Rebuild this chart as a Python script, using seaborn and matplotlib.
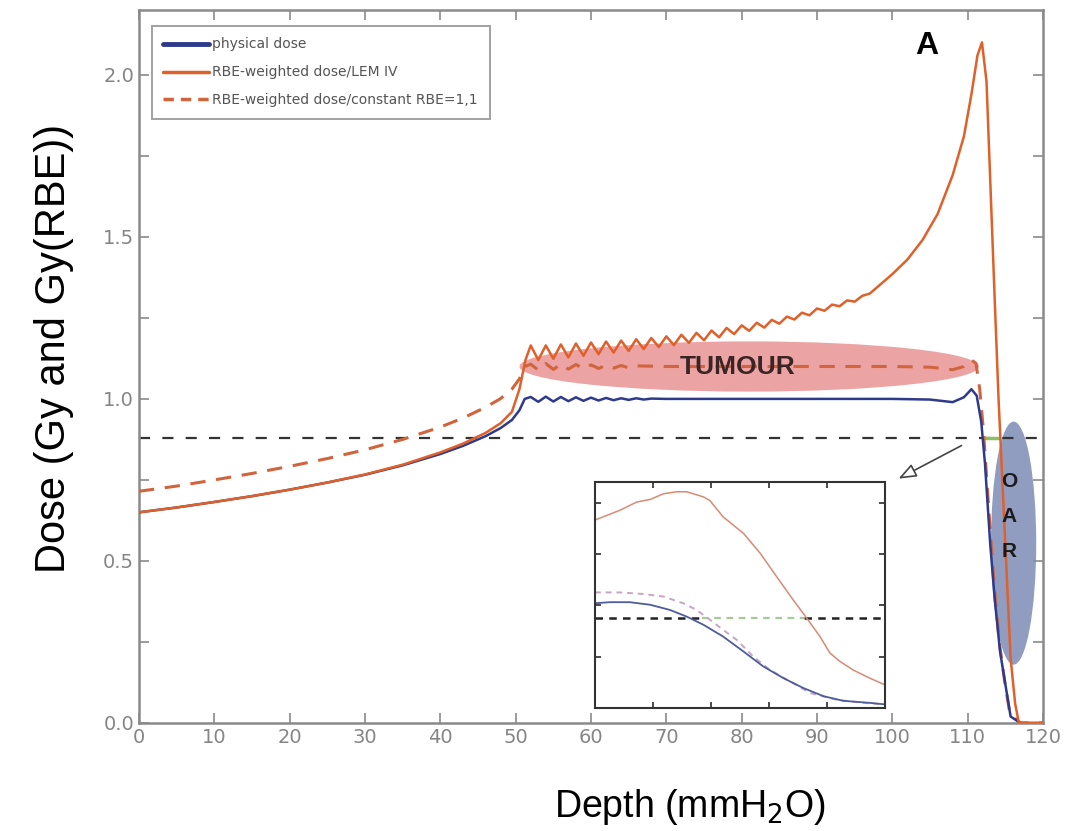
import matplotlib
matplotlib.use("Agg")
import matplotlib.pyplot as plt
from matplotlib.lines import Line2D
from matplotlib.patches import Ellipse
from matplotlib.ticker import MultipleLocator, FormatStrFormatter
import seaborn as sns

# ---- data ----
depth_phys = [0, 5, 10, 15, 20, 25, 30, 35, 40, 43, 46, 48, 49.5, 50.5, 51.2,
              52, 53, 54, 55, 56, 57, 58, 59, 60, 61, 62, 63, 64, 65, 66, 67, 68,
              70, 75, 80, 85, 90, 95, 100, 105, 108, 109.5, 110.5, 111.2, 111.8,
              112.3, 113, 113.6, 114.3, 115, 115.7, 117, 120]
dose_phys = [0.650, 0.665, 0.682, 0.700, 0.720, 0.742, 0.766, 0.795, 0.830, 0.855, 0.885, 0.910, 0.935, 0.965, 1.000,
             1.006, 0.991, 1.007, 0.992, 1.006, 0.993, 1.005, 0.994, 1.004, 0.995, 1.003, 0.996, 1.002, 0.997, 1.002, 0.998, 1.001,
             1.000, 1.000, 1.000, 1.000, 1.000, 1.000, 1.000, 0.998, 0.990, 1.005, 1.030, 1.010, 0.930,
             0.800, 0.550, 0.380, 0.220, 0.120, 0.020, 0.000, 0.000]

depth_lem = [0, 5, 10, 15, 20, 25, 30, 35, 40, 43, 46, 48, 49.5, 50.5, 51.3,
             52, 53, 54, 55, 56, 57, 58, 59, 60, 61, 62, 63, 64, 65, 66, 67, 68, 69, 70,
             71, 72, 73, 74, 75, 76, 77, 78, 79, 80, 81, 82, 83, 84, 85, 86, 87, 88, 89,
             90, 91, 92, 93, 94, 95, 96, 97, 98, 100, 102, 104, 106, 108, 109.5, 110.5,
             111.3, 111.9, 112.5, 113.1, 113.6, 114.1, 114.9, 115.7, 116.3, 116.8, 120]
dose_lem = [0.650, 0.665, 0.682, 0.700, 0.720, 0.742, 0.767, 0.797, 0.835, 0.862, 0.895, 0.925, 0.960, 1.030, 1.120,
            1.165, 1.120, 1.165, 1.124, 1.168, 1.128, 1.171, 1.133, 1.174, 1.138, 1.177, 1.143, 1.180, 1.148, 1.184, 1.154, 1.188, 1.160, 1.193,
            1.166, 1.198, 1.173, 1.204, 1.181, 1.211, 1.190, 1.219, 1.200, 1.227, 1.210, 1.235, 1.220, 1.244, 1.232, 1.254, 1.245, 1.266, 1.258,
            1.279, 1.272, 1.291, 1.286, 1.304, 1.300, 1.318, 1.325, 1.345, 1.385, 1.430, 1.490, 1.570, 1.690, 1.810, 1.940,
            2.060, 2.100, 1.980, 1.610, 1.300, 1.000, 0.600, 0.200, 0.060, 0.000, 0.000]

depth_rbe = [0, 5, 10, 15, 20, 25, 30, 35, 40, 43, 46, 48, 49.5, 50.5, 51.2,
             52, 53, 54, 55, 56, 57, 58, 59, 60, 61, 62, 63, 64, 65, 66,
             70, 80, 90, 100, 105, 108, 109.5, 110.5, 111.1, 111.6, 112.1, 112.8,
             113.5, 114.2, 114.9, 115.6, 117, 120]
dose_rbe = [0.715, 0.731, 0.750, 0.770, 0.792, 0.816, 0.843, 0.875, 0.913, 0.941, 0.974, 1.001, 1.030, 1.062, 1.100,
            1.107, 1.089, 1.109, 1.091, 1.107, 1.092, 1.106, 1.093, 1.105, 1.094, 1.104, 1.095, 1.103, 1.096, 1.102,
            1.100, 1.100, 1.100, 1.100, 1.098, 1.090, 1.100, 1.120, 1.110, 1.030, 0.900,
            0.660, 0.430, 0.250, 0.130, 0.030, 0.000, 0.000]

threshold = 0.88
green_depth = [112.3, 114.0]

# inset (zoomed) curves, arbitrary inset units
in_x_lem = [0, 0.43, 0.72, 0.95, 1.18, 1.41, 1.58, 1.87, 1.98, 2.21, 2.56, 2.85, 3.13, 3.42, 3.65, 3.88, 4.05, 4.22, 4.45, 4.74, 5.0]
in_y_lem = [3.66, 3.85, 4.01, 4.06, 4.17, 4.21, 4.21, 4.11, 4.04, 3.72, 3.40, 3.01, 2.56, 2.10, 1.75, 1.39, 1.07, 0.91, 0.74, 0.58, 0.45]
in_x_rbe = [0, 0.43, 0.83, 1.18, 1.52, 1.75, 1.98, 2.21, 2.44, 2.73, 3.02, 3.36, 3.71, 4.17, 4.63, 5.0]
in_y_rbe = [2.25, 2.25, 2.22, 2.17, 2.04, 1.91, 1.72, 1.52, 1.33, 1.00, 0.74, 0.52, 0.29, 0.16, 0.10, 0.07]
in_x_phys = [0, 0.26, 0.60, 0.95, 1.29, 1.58, 1.87, 2.21, 2.56, 2.90, 3.25, 3.59, 3.94, 4.28, 4.74, 5.0]
in_y_phys = [2.04, 2.06, 2.06, 2.01, 1.91, 1.78, 1.62, 1.39, 1.10, 0.81, 0.58, 0.39, 0.23, 0.14, 0.10, 0.07]
in_thr = 1.75
in_green = [1.85, 3.6]

BLUE = "#2e3a8c"
ORANGE = "#e0602a"
DASHED = "#d0643c"
GRAY = "#8a8a8a"

sns.set_theme(style="ticks")
plt.rcParams["font.family"] = ["DejaVu Sans"]

fig = plt.figure(figsize=(10.77, 8.31), dpi=100)
ax = fig.add_axes([139 / 1077, 1 - 723 / 831, 904 / 1077, 713 / 831])

# shaded regions
ax.add_patch(Ellipse((81, 1.10), 61, 0.155, color="#e58585", alpha=0.75, lw=0, zorder=1))
ax.add_patch(Ellipse((116.1, 0.555), 6.0, 0.75, color="#7d8cb6", alpha=0.85, lw=0, zorder=1))

# threshold line
ax.axhline(threshold, color="#333333", lw=1.6, linestyle=(0, (5, 5.5)), zorder=2)
ax.plot(green_depth, [threshold, threshold], color="#8fbf5f", lw=2.5, zorder=3)

sns.lineplot(x=depth_rbe, y=dose_rbe, ax=ax, color=DASHED, lw=2.2,
             linestyle=(0, (5, 3.5)), estimator=None, zorder=4)
sns.lineplot(x=depth_phys, y=dose_phys, ax=ax, color=BLUE, lw=1.8, estimator=None, zorder=5)
sns.lineplot(x=depth_lem, y=dose_lem, ax=ax, color=ORANGE, lw=1.8, estimator=None, zorder=6)

ax.set_xlim(0, 120)
ax.set_ylim(0, 2.2)
ax.xaxis.set_major_locator(MultipleLocator(10))
ax.yaxis.set_major_locator(MultipleLocator(0.5))
ax.yaxis.set_minor_locator(MultipleLocator(0.25))
ax.yaxis.set_major_formatter(FormatStrFormatter("%.1f"))
ax.tick_params(which="both", direction="in", top=True, right=True, color=GRAY,
               labelcolor="#858585", labelsize=14, length=7, width=1.2)
for s in ax.spines.values():
    s.set_color(GRAY)
    s.set_linewidth(1.8)

ax.set_ylabel("Dose (Gy and Gy(RBE))", family="Liberation Sans", fontsize=30, color="black")
ax.yaxis.set_label_coords(-0.072, 0.525)
ax.set_xlabel("Depth (mmH$_2$O)", family="Liberation Sans", fontsize=27, color="black")
ax.xaxis.set_label_coords(0.61, -0.09)

# annotations
ax.text(79.5, 1.10, "TUMOUR", ha="center", va="center", fontsize=19, fontweight="bold",
        color="#3a2424", family="Liberation Sans", zorder=7)
for letter, yy in zip("OAR", [0.744, 0.636, 0.530]):
    ax.text(115.5, yy, letter, ha="center", va="center", fontsize=15, fontweight="bold",
            color="#1a1a1a", family="Liberation Sans", zorder=7)
ax.text(104.6, 2.09, "A", ha="center", va="center", fontsize=23, fontweight="bold",
        color="black", family="Liberation Sans")
ax.annotate("", xy=(100.5, 0.75), xytext=(109.5, 0.86),
            arrowprops=dict(arrowstyle="-|>,head_length=0.9,head_width=0.35",
                            fc="white", ec="#444444", lw=1.2), zorder=7)

handles = [Line2D([], [], color=BLUE, lw=3.5),
           Line2D([], [], color=ORANGE, lw=2.5),
           Line2D([], [], color=DASHED, lw=2.5, linestyle=(0, (3, 2)))]
labels = ["physical dose", "RBE-weighted dose/LEM IV", "RBE-weighted dose/constant RBE=1,1"]
leg = ax.legend(handles, labels, loc="upper left", bbox_to_anchor=(0.014, 0.978),
                fontsize=10, frameon=True, fancybox=False, handlelength=3.3,
                handletextpad=0.2, borderpad=0.85, labelspacing=1.0, borderaxespad=0)
leg.get_frame().set_edgecolor(GRAY)
leg.get_frame().set_linewidth(1.4)
for t in leg.get_texts():
    t.set_color("#555555")

# inset
ins = fig.add_axes([595 / 1077, 1 - 708 / 831, 290 / 1077, 226 / 831])
ins.set_facecolor("white")
ins.plot([0, in_green[0]], [in_thr, in_thr], color="#222222", lw=1.8, linestyle=(0, (3, 2.5)))
ins.plot(in_green, [in_thr, in_thr], color="#a8c898", lw=1.6, linestyle=(0, (3, 2.5)))
ins.plot([in_green[1], 5], [in_thr, in_thr], color="#222222", lw=1.8, linestyle=(0, (3, 2.5)))
sns.lineplot(x=in_x_lem, y=in_y_lem, ax=ins, color="#d88a74", lw=1.1, estimator=None)
sns.lineplot(x=in_x_rbe, y=in_y_rbe, ax=ins, color="#c8a4c8", lw=1.4,
             linestyle=(0, (3, 2.5)), estimator=None)
sns.lineplot(x=in_x_phys, y=in_y_phys, ax=ins, color="#4e5c9c", lw=1.3, estimator=None)
ins.set_xlim(0, 5)
ins.set_ylim(0, 4.4)
ins.set_xticks([1, 2, 3, 4])
ins.set_yticks([1, 2, 3, 4])
ins.tick_params(direction="in", top=True, right=True, labelbottom=False, labelleft=False,
                length=4, color="#333333")
for s in ins.spines.values():
    s.set_color("#333333")
    s.set_linewidth(1.5)

fig.savefig("out.png", dpi=100)
